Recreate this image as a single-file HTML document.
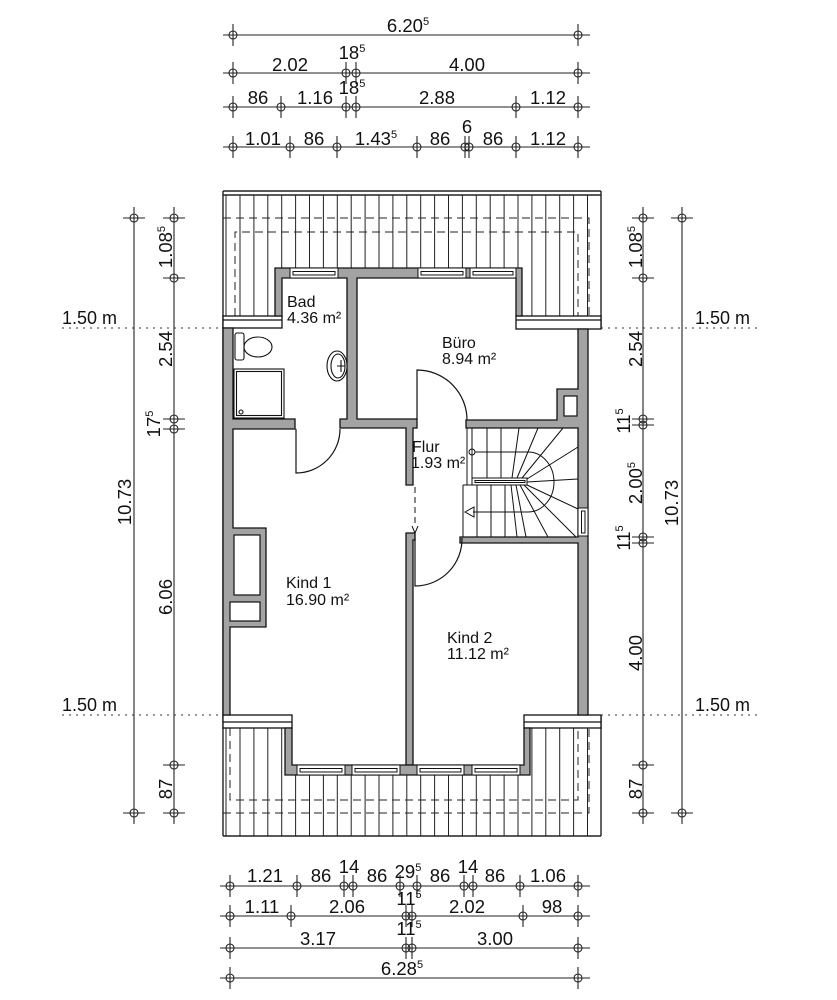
<!DOCTYPE html>
<html><head><meta charset="utf-8"><style>
html,body{margin:0;padding:0;background:#fff}
svg{display:block}
.d{font-family:"Liberation Sans",sans-serif;font-size:18.5px;fill:#111}
.r{font-family:"Liberation Sans",sans-serif;font-size:16px;fill:#111}
.s{font-size:11px}
</style></head><body>
<svg width="837" height="1000" viewBox="0 0 837 1000" xmlns="http://www.w3.org/2000/svg">
<rect width="837" height="1000" fill="#fff"/>

<!-- ===== ROOF HATCH ===== -->
<g stroke="#222" stroke-width="1" fill="none">
<path d="M226 195V316M240 195V316M253.9 195V316M267.8 195V316M281.7 195V268M295.6 195V268M309.5 195V268M323.4 195V268M337.3 195V268M351.2 195V268M365.1 195V268M379 195V268M392.9 195V268M406.8 195V268M420.7 195V268M434.6 195V268M448.5 195V268M462.4 195V268M476.3 195V268M490.2 195V268M504.1 195V268M518 195V268M531.9 195V316M545.8 195V316M559.7 195V316M573.6 195V316M587.5 195V316"/>
<path d="M226 728V836M240 728V836M253.9 728V836M267.8 728V836M281.7 728V836M295.6 775V836M309.5 775V836M323.4 775V836M337.3 775V836M351.2 775V836M365.1 775V836M379 775V836M392.9 775V836M406.8 775V836M420.7 775V836M434.6 775V836M448.5 775V836M462.4 775V836M476.3 775V836M490.2 775V836M504.1 775V836M518 775V836M531.9 728V836M545.8 728V836M559.7 728V836M573.6 728V836M587.5 728V836"/>
<path d="M223 191H601M223 195H601M223 191V836M601 191V329M601 715V836M223 836H601" stroke-width="1.4"/>
<g stroke-dasharray="8 5">
<path d="M223 218H589V316"/>
<path d="M235 316V232H578V316"/>
<path d="M230 728V800H578V728"/>
<path d="M223 813H589V728"/>
</g>
</g>

<!-- eave bands -->
<g fill="#fff" stroke="#111" stroke-width="1.3">
<rect x="223" y="316" width="59" height="12"/>
<line x1="223" y1="320" x2="282" y2="320"/>
<rect x="516" y="316" width="85" height="13"/>
<line x1="516" y1="320" x2="601" y2="320"/>
<rect x="223" y="715" width="69" height="13"/>
<line x1="223" y1="722" x2="292" y2="722"/>
<rect x="524" y="715" width="77" height="13"/>
<line x1="524" y1="722" x2="601" y2="722"/>
</g>

<!-- ===== WALLS ===== -->
<g fill="#a3a3a3" stroke="#111" stroke-width="1.3" stroke-linejoin="miter">
<path d="M275 316V268H522V316H516V278H357V419H417V428H413V485H406V428H340V419H347V278H282V316Z"/>
<path d="M223 328H233V419H295V429H233V528H266V627H230V715H223Z"/>
<path d="M578 329H588V715H578V543H460V537H578V428H466V420H557V389H578Z"/>
<path d="M406 533H415V540H413V765H406Z"/>
<path d="M285 728H292V765H524V728H530V775H285Z"/>
</g>
<g fill="#fff" stroke="#111" stroke-width="1.2">
<rect x="564" y="396" width="13" height="20"/>
<rect x="234" y="535" width="26" height="60"/>
<rect x="230" y="602" width="30" height="19"/>
</g>

<!-- windows -->
<g fill="#fff" stroke="#111" stroke-width="1">
<rect x="290" y="268" width="48" height="10"/><rect x="293" y="271.5" width="42" height="3.5"/>
<rect x="418" y="268" width="48" height="10"/><rect x="421" y="271.5" width="42" height="3.5"/>
<rect x="470" y="268" width="46" height="10"/><rect x="473" y="271.5" width="40" height="3.5"/>
<rect x="297" y="765" width="48" height="10"/><rect x="300" y="768.5" width="42" height="3.5"/>
<rect x="352" y="765" width="48" height="10"/><rect x="355" y="768.5" width="42" height="3.5"/>
<rect x="417" y="765" width="47" height="10"/><rect x="420" y="768.5" width="41" height="3.5"/>
<rect x="472" y="765" width="48" height="10"/><rect x="475" y="768.5" width="42" height="3.5"/>
<rect x="578" y="508" width="10" height="28"/><rect x="581.5" y="511" width="3.5" height="22"/>
</g>

<!-- ===== FIXTURES ===== -->
<g fill="#fff" stroke="#111" stroke-width="1.1">
<rect x="235" y="333" width="9" height="27" rx="2"/>
<ellipse cx="258" cy="347" rx="14" ry="10"/>
<rect x="234" y="369" width="50" height="49"/>
<rect x="236.5" y="371.5" width="45" height="44"/>
<circle cx="241" cy="412" r="2"/>
<ellipse cx="337" cy="366" rx="10" ry="15"/>
<ellipse cx="338" cy="366" rx="7" ry="12"/>
<path d="M341 360V372M337 366H345" fill="none"/>
</g>

<!-- ===== DOORS ===== -->
<g fill="none" stroke="#111" stroke-width="1.2">
<path d="M417 420V370A50 50 0 0 1 467 420"/>
<path d="M296 429V473A44 44 0 0 0 340 429"/>
<path d="M415 538V586A47 47 0 0 0 462 538"/>
<path d="M415 487V527" stroke-dasharray="6 4" stroke-width="1"/>
<path d="M412 526L415 533L418 526" stroke-width="1"/>
</g>

<!-- ===== STAIRS ===== -->
<g fill="none" stroke="#111" stroke-width="1">
<path d="M467 428V485M472 428V478M463 485V537M463 485H472M472 428H578"/>
<rect x="472" y="478" width="55" height="7" fill="#fff"/>
<path d="M475 480.5H525V482.5H475Z"/>
<path d="M487 428V478M501 428V478"/>
<path d="M477 485V537M491 485V537M505 485V537"/>
<path d="M512 478L519 428M517 478L538 428M522 478L563 428M527 479L578 447M527 482L578 479M527 485L578 509M524 485L576 537M520 485L548 537M516 485L526 537M511 485L517 537"/>
<circle cx="472" cy="452" r="3"/>
<path d="M475 452H528A26 30 0 0 1 528 512H473"/>
<path d="M465 512L474 507V517Z"/>
</g>

<!-- ===== ROOM LABELS ===== -->
<g class="r">
<text x="287" y="307">Bad</text><text x="287" y="323">4.36 m²</text>
<text x="442" y="348">Büro</text><text x="442" y="364">8.94 m²</text>
<text x="412" y="452">Flur</text><text x="411" y="468">1.93 m²</text>
<text x="286" y="588">Kind 1</text><text x="286" y="605">16.90 m²</text>
<text x="447" y="643">Kind 2</text><text x="447" y="659">11.12 m²</text>
</g>

<!-- ===== 1.50 m lines ===== -->
<g stroke="#333" stroke-width="1" stroke-dasharray="2 5" fill="none">
<path d="M62 328H222M601 328H757M62 715H222M601 715H757"/>
</g>
<g class="d" style="font-size:18px">
<text x="62" y="324">1.50 m</text><text x="695" y="324">1.50 m</text>
<text x="62" y="711">1.50 m</text><text x="695" y="711">1.50 m</text>
</g>

<!-- ===== DIMENSION LINES ===== -->
<g stroke="#222" stroke-width="1.1" fill="none">
<path d="M223 35H590M223 73H590M223 107H590M223 147H590"/>
<path d="M233 24V46M578 24V46"/>
<circle cx="233" cy="35" r="4"/><circle cx="578" cy="35" r="4"/>
<path d="M233 62V84M346 62V84M356 62V84M578 62V84"/>
<circle cx="233" cy="73" r="4"/><circle cx="346" cy="73" r="4"/><circle cx="356" cy="73" r="4"/><circle cx="578" cy="73" r="4"/>
<path d="M233 96V118M281 96V118M346 96V118M356 96V118M516 96V118M578 96V118"/>
<circle cx="233" cy="107" r="4"/><circle cx="281" cy="107" r="4"/><circle cx="346" cy="107" r="4"/><circle cx="356" cy="107" r="4"/><circle cx="516" cy="107" r="4"/><circle cx="578" cy="107" r="4"/>
<path d="M233 136V158M290 136V158M337 136V158M417 136V158M465 136V158M469 136V158M516 136V158M578 136V158"/>
<circle cx="233" cy="147" r="4"/><circle cx="290" cy="147" r="4"/><circle cx="337" cy="147" r="4"/><circle cx="417" cy="147" r="4"/><circle cx="465" cy="147" r="4"/><circle cx="469" cy="147" r="4"/><circle cx="516" cy="147" r="4"/><circle cx="578" cy="147" r="4"/>
<path d="M220 886H590M220 916H590M220 948H590M220 978H590"/>
<path d="M230 875V897M297 875V897M344 875V897M353 875V897M400 875V897M417 875V897M464 875V897M473 875V897M520 875V897M578 875V897"/>
<circle cx="230" cy="886" r="4"/><circle cx="297" cy="886" r="4"/><circle cx="344" cy="886" r="4"/><circle cx="353" cy="886" r="4"/><circle cx="400" cy="886" r="4"/><circle cx="417" cy="886" r="4"/><circle cx="464" cy="886" r="4"/><circle cx="473" cy="886" r="4"/><circle cx="520" cy="886" r="4"/><circle cx="578" cy="886" r="4"/>
<path d="M230 905V927M291 905V927M406 905V927M412 905V927M523 905V927M578 905V927"/>
<circle cx="230" cy="916" r="4"/><circle cx="291" cy="916" r="4"/><circle cx="406" cy="916" r="4"/><circle cx="412" cy="916" r="4"/><circle cx="523" cy="916" r="4"/><circle cx="578" cy="916" r="4"/>
<path d="M230 937V959M406 937V959M412 937V959M578 937V959"/>
<circle cx="230" cy="948" r="4"/><circle cx="406" cy="948" r="4"/><circle cx="412" cy="948" r="4"/><circle cx="578" cy="948" r="4"/>
<path d="M230 967V989M578 967V989"/>
<circle cx="230" cy="978" r="4"/><circle cx="578" cy="978" r="4"/>
<path d="M134 207V824M174 207V824"/>
<path d="M123 218H145M123 813H145"/>
<circle cx="134" cy="218" r="4"/><circle cx="134" cy="813" r="4"/>
<path d="M163 218H185M163 278H185M163 419H185M163 429H185M163 765H185M163 813H185"/>
<circle cx="174" cy="218" r="4"/><circle cx="174" cy="278" r="4"/><circle cx="174" cy="419" r="4"/><circle cx="174" cy="429" r="4"/><circle cx="174" cy="765" r="4"/><circle cx="174" cy="813" r="4"/>
<path d="M643 207V824M682 207V824"/>
<path d="M632 218H654M632 278H654M632 419H654M632 425H654M632 537H654M632 543H654M632 765H654M632 813H654"/>
<circle cx="643" cy="218" r="4"/><circle cx="643" cy="278" r="4"/><circle cx="643" cy="419" r="4"/><circle cx="643" cy="425" r="4"/><circle cx="643" cy="537" r="4"/><circle cx="643" cy="543" r="4"/><circle cx="643" cy="765" r="4"/><circle cx="643" cy="813" r="4"/>
<path d="M671 218H693M671 813H693"/>
<circle cx="682" cy="218" r="4"/><circle cx="682" cy="813" r="4"/>
</g>

<!-- ===== DIMENSION TEXT ===== -->
<g class="d" text-anchor="middle">
<text x="408" y="32">6.20<tspan class="s" dy="-7">5</tspan></text>
<text x="290" y="71">2.02</text>
<text x="352" y="59">18<tspan class="s" dy="-7">5</tspan></text>
<text x="467" y="71">4.00</text>
<text x="258" y="104">86</text>
<text x="315" y="104">1.16</text>
<text x="352" y="94">18<tspan class="s" dy="-7">5</tspan></text>
<text x="437" y="104">2.88</text>
<text x="548" y="104">1.12</text>
<text x="263" y="145">1.01</text>
<text x="314" y="145">86</text>
<text x="376" y="145">1.43<tspan class="s" dy="-7">5</tspan></text>
<text x="440" y="145">86</text>
<text x="467" y="133">6</text>
<text x="493" y="145">86</text>
<text x="548" y="145">1.12</text>
<text x="265" y="882">1.21</text>
<text x="321" y="882">86</text>
<text x="349" y="873">14</text>
<text x="377" y="882">86</text>
<text x="408" y="878">29<tspan class="s" dy="-7">5</tspan></text>
<text x="440" y="882">86</text>
<text x="468" y="873">14</text>
<text x="495" y="882">86</text>
<text x="548" y="882">1.06</text>
<text x="262" y="913">1.11</text>
<text x="347" y="913">2.06</text>
<text x="409" y="905">11<tspan class="s" dy="-7">5</tspan></text>
<text x="467" y="913">2.02</text>
<text x="552" y="913">98</text>
<text x="318" y="945">3.17</text>
<text x="409" y="935">11<tspan class="s" dy="-7">5</tspan></text>
<text x="495" y="945">3.00</text>
<text x="402" y="975">6.28<tspan class="s" dy="-7">5</tspan></text>
<text transform="translate(172,247) rotate(-90)">1.08<tspan class="s" dy="-7">5</tspan></text>
<text transform="translate(172,349) rotate(-90)">2.54</text>
<text transform="translate(160,424) rotate(-90)">17<tspan class="s" dy="-7">5</tspan></text>
<text transform="translate(131,502) rotate(-90)">10.73</text>
<text transform="translate(172,597) rotate(-90)">6.06</text>
<text transform="translate(172,789) rotate(-90)">87</text>
<text transform="translate(642,247) rotate(-90)">1.08<tspan class="s" dy="-7">5</tspan></text>
<text transform="translate(642,349) rotate(-90)">2.54</text>
<text transform="translate(630,421) rotate(-90)">11<tspan class="s" dy="-7">5</tspan></text>
<text transform="translate(642,483) rotate(-90)">2.00<tspan class="s" dy="-7">5</tspan></text>
<text transform="translate(678,503) rotate(-90)">10.73</text>
<text transform="translate(630,538) rotate(-90)">11<tspan class="s" dy="-7">5</tspan></text>
<text transform="translate(642,653) rotate(-90)">4.00</text>
<text transform="translate(642,789) rotate(-90)">87</text>
</g>
</svg>
</body></html>
